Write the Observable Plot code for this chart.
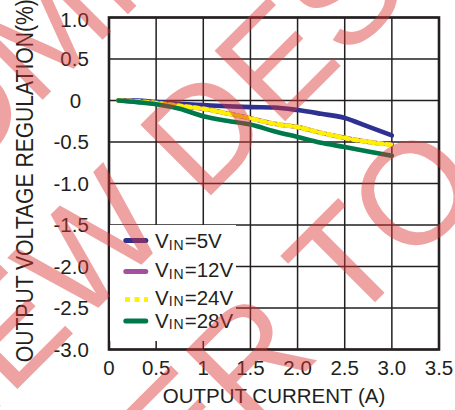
<!DOCTYPE html>
<html><head><meta charset="utf-8">
<script src="https://cdn.jsdelivr.net/npm/d3@7"></script>
<script src="https://cdn.jsdelivr.net/npm/@observablehq/plot@0.6"></script>
<style>
html,body{margin:0;padding:0;background:#fff;}
#chart{position:relative;width:455px;height:410px;overflow:hidden;}
</style></head><body><div id="chart"></div>
<script>
// ---- data ----
const current = [0.1, 0.3, 0.5, 0.75, 1.0, 1.25, 1.5, 1.75, 2.0, 2.25, 2.5, 2.75, 3.0];
const vin5  = [0, 0, -0.02, -0.04, -0.055, -0.07, -0.08, -0.085, -0.115, -0.16, -0.21, -0.315, -0.42];
const vin12 = [0, -0.015, -0.035, -0.065, -0.10, -0.155, -0.215, -0.28, -0.32, -0.39, -0.45, -0.50, -0.53];
const vin24 = [0, -0.01, -0.03, -0.065, -0.10, -0.155, -0.215, -0.28, -0.32, -0.39, -0.45, -0.50, -0.535];
const vin28 = [0, -0.02, -0.045, -0.10, -0.19, -0.245, -0.29, -0.37, -0.44, -0.51, -0.56, -0.615, -0.665];
const seriesNames = ["5V", "12V", "24V", "28V"];
const xTicks = [0, 0.5, 1, 1.5, 2, 2.5, 3, 3.5];
const xTickLabels = ["0", "0.5", "1", "1.5", "2.0", "2.5", "3.0", "3.5"];
const yTicks = [1, 0.5, 0, -0.5, -1, -1.5, -2, -2.5, -3];
const yTickLabels = ["1.0", "0.5", "0", "-0.5", "-1.0", "-1.5", "-2.0", "-2.5", "-3.0"];
const xTitle = "OUTPUT CURRENT (A)";
const yTitle = "OUTPUT VOLTAGE REGULATION(%)";
const watermarkLines = ["NOT RECOMMENDED FOR", "NEW DESIGNS", "REFER TO"];

// ---- styles ----
const colors = {"5V": "#2e3192", "12V": "#a2519e", "24V": "#fff200", "28V": "#00794a"};
const ink = "#231f20";
const font = '"Liberation Sans", Arial, Helvetica, sans-serif';

const valuesBySeries = {"5V": vin5, "12V": vin12, "24V": vin24, "28V": vin28};
const rows = s => current.map((x, i) => ({x, y: valuesBySeries[s][i], s}));
const xMap = new Map(xTicks.map((t, i) => [t, xTickLabels[i]]));
const yMap = new Map(yTicks.map((t, i) => [t, yTickLabels[i]]));

const plot = Plot.plot({
  width: 455, height: 410,
  marginLeft: 108.5, marginRight: 16.5, marginTop: 17, marginBottom: 61,
  x: {domain: [0, 3.5]},
  y: {domain: [-3, 1]},
  style: {fontFamily: font, fontSize: "20.5px", color: ink, background: "white"},
  marks: [
    Plot.ruleX(xTicks, {stroke: ink, strokeWidth: 1.5}),
    Plot.ruleY(yTicks, {stroke: ink, strokeWidth: 1.5}),
    Plot.frame({stroke: ink, strokeWidth: 2.6}),
    Plot.axisX({ticks: xTicks, tickFormat: d => xMap.get(d), tickSize: 0, tickPadding: 11.4, fontSize: 20.5, label: null, fill: ink}),
    Plot.axisY({ticks: yTicks.filter(d => d !== 0 && d !== 1), tickFormat: d => yMap.get(d), tickSize: 0, tickPadding: 20.2, dy: 0.6, fontSize: 20.5, label: null, fill: ink}),
    Plot.axisY({ticks: [0], tickFormat: d => yMap.get(d), tickSize: 0, tickPadding: 27.8, dy: 0.5, fontSize: 20.5, label: null, fill: ink}),
    Plot.axisY({ticks: [1], tickFormat: d => yMap.get(d), tickSize: 0, tickPadding: 20.2, dy: 2.5, fontSize: 20.5, label: null, fill: ink}),
    Plot.text([xTitle], {frameAnchor: "bottom", textAnchor: "middle", lineAnchor: "middle", dy: 46.5, fontSize: 20.5, fill: ink}),
    Plot.text([yTitle], {frameAnchor: "left", textAnchor: "middle", lineAnchor: "middle", rotate: -90, dx: -83.4, dy: -2.8, fontSize: 23, fill: ink}),
    Plot.line(rows("5V"), {x: "x", y: "y", stroke: colors["5V"], strokeWidth: 4.6, curve: "monotone-x"}),
    Plot.line(rows("12V"), {x: "x", y: "y", stroke: colors["12V"], strokeWidth: 4.6, curve: "monotone-x"}),
    Plot.line(rows("24V"), {x: "x", y: "y", stroke: colors["24V"], strokeWidth: 4.6, strokeDasharray: "4.5,4", curve: "monotone-x"}),
    Plot.line(rows("28V"), {x: "x", y: "y", stroke: colors["28V"], strokeWidth: 4.6, curve: "monotone-x"})
  ]
});
document.getElementById("chart").appendChild(plot);

const svg = d3.select(plot);
// condense the rotated y title to the reference's length
svg.selectAll("text").filter(function () { return this.textContent === yTitle; })
  .attr("textLength", 363).attr("lengthAdjust", "spacingAndGlyphs");

// ---- legend (inside plot, lower-left, white box) ----
const lg = svg.append("g").attr("text-anchor", "start");
lg.append("rect").attr("x", 110).attr("y", 225).attr("width", 126).attr("height", 116).attr("fill", "white");
const swatchY = [240.5, 271.5, 299.5, 321];
const textY = [248.3, 277.3, 305, 327.7];
seriesNames.forEach((s, i) => {
  if (s === "24V") {
    lg.append("line").attr("x1", 125).attr("x2", 148).attr("y1", swatchY[i]).attr("y2", swatchY[i])
      .attr("stroke", colors[s]).attr("stroke-width", 5).attr("stroke-dasharray", "5,4.5");
  } else {
    lg.append("line").attr("x1", 125.8).attr("x2", 145.8).attr("y1", swatchY[i]).attr("y2", swatchY[i])
      .attr("stroke", colors[s]).attr("stroke-width", 5).attr("stroke-linecap", "round");
  }
  const t = lg.append("text").attr("x", 155).attr("y", textY[i]).attr("font-size", 20.5)
    .attr("text-anchor", "start").attr("font-family", font).attr("fill", ink);
  t.append("tspan").text("V");
  t.append("tspan").attr("font-size", 14).attr("dy", 1.3).attr("letter-spacing", 1).text("IN");
  t.append("tspan").attr("dy", -1.3).text("=" + s);
});

// ---- watermark ----
const wm = svg.append("g").attr("opacity", 0.45).attr("pointer-events", "none").attr("text-anchor", "start");
const wmStarts = [[-505.1, 647.5], [-65.1, 471.5], [-25.6, 703]];
watermarkLines.forEach((txt, i) => {
  wm.append("text").attr("transform", `translate(${wmStarts[i][0]},${wmStarts[i][1]}) rotate(-45)`)
    .attr("text-anchor", "start")
    .attr("font-family", font).attr("font-size", 145).attr("fill", "rgb(220,50,50)").text(txt);
});
</script></body></html>
